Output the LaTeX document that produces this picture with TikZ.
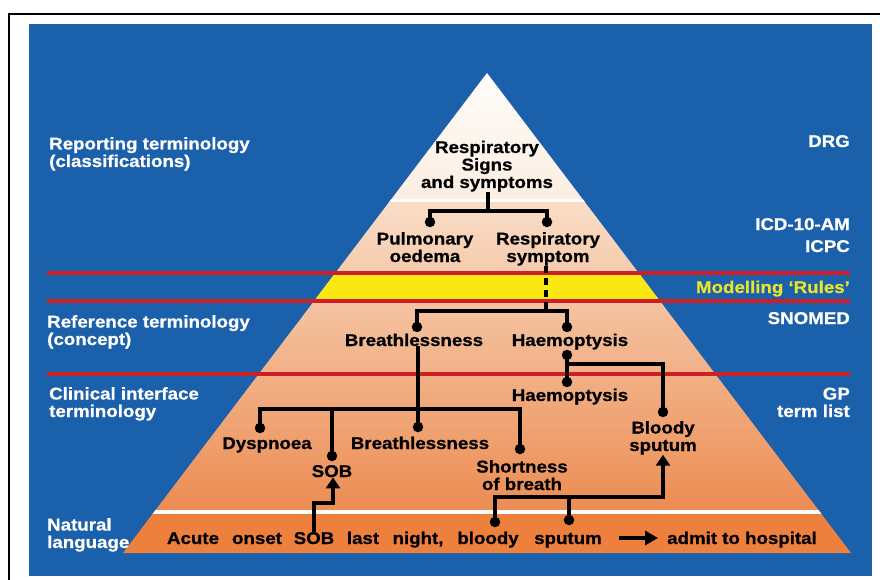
\documentclass[tikz,border=0pt]{standalone}
\usepackage{fontspec}
\setmainfont{Liberation Sans}[FakeStretch=1.1, BoldFeatures={FakeBold=0.7}]
\usetikzlibrary{arrows.meta}
\definecolor{bgblue}{RGB}{27,96,171}
\definecolor{redl}{RGB}{206,30,38}
\definecolor{yel}{RGB}{250,232,20}
\definecolor{modyel}{RGB}{236,228,40}
\definecolor{cream1}{RGB}{255,253,250}
\definecolor{cream2}{RGB}{251,238,226}
\definecolor{peach1}{RGB}{249,222,200}
\definecolor{peach2}{RGB}{236,140,82}
\definecolor{orangeb}{RGB}{237,128,60}
\begin{document}
\begin{tikzpicture}[x=1pt,y=-1pt,
  font=\bfseries\fontsize{17}{17.5}\selectfont,
  lbl/.style={text=white, inner sep=0pt, anchor=base west, align=left},
  rlbl/.style={text=white, inner sep=0pt, anchor=base east, align=right},
  term/.style={text=black, inner sep=0pt, anchor=base, align=center},
  dot/.style={circle, fill=black, inner sep=0pt, minimum size=10.5pt},
  conn/.style={line width=3.5pt, draw=black},
  arr/.style={conn, -{Triangle[width=14pt,length=11pt]}},
  redline/.style={line width=4pt, draw=redl},
]
\useasboundingbox (0,0) rectangle (880,580);
\fill[white] (0,0) rectangle (880,580);
\draw[line width=2pt] (8.5,14) rectangle (890,590);
\fill[bgblue] (29,24) rectangle (872,576);

% pyramid
\coordinate (apex) at (487,73);
\coordinate (bl) at (123,553);
\coordinate (br) at (851,553);
\begin{scope}
  \clip (apex) -- (bl) -- (br) -- cycle;
  \shade[top color=cream1, bottom color=cream2] (100,70) rectangle (880,200);
  \shade[top color=peach1, bottom color=peach2] (100,200) rectangle (880,512);
  \fill[orangeb] (100,512) rectangle (880,556);
  \fill[yel] (100,275) rectangle (880,300);
  \draw[white, line width=3pt] (100,200) -- (880,200);
  \draw[white, line width=4pt] (100,512) -- (880,512);
\end{scope}

% red lines
\draw[redline] (47,273) -- (850,273);
\draw[redline] (47,301) -- (850,301);
\draw[redline] (47,374) -- (850,374);

% side labels (anchor = baseline of last line)
\node[lbl] (rep) at (49,167) {Reporting terminology\\(classifications)};
\node[lbl] (ref) at (47,345) {Reference terminology\\(concept)};
\node[lbl] (cli) at (49,417) {Clinical interface\\terminology};
\node[lbl] (nat) at (47,548) {Natural\\language};
\node[rlbl] (drg) at (850,147) {DRG};
\node[rlbl] (icd) at (850,252) {ICD-10-AM\\[4.5pt]ICPC};
\node[rlbl, text=modyel] (mod) at (850,293) {Modelling ‘Rules’};
\node[rlbl] (sno) at (850,324) {SNOMED};
\node[rlbl] (gp) at (850,417) {GP\\term list};

% pyramid terms
\node[term] (rss) at (487,188) {Respiratory\\Signs\\and symptoms};
\node[term] (pulm) at (425,262) {Pulmonary\\oedema};
\node[term] (rsym) at (548,262) {Respiratory\\symptom};
\node[term] (br1) at (414,346) {Breathlessness};
\node[term] (ha1) at (570,346) {Haemoptysis};
\node[term] (ha2) at (570,401) {Haemoptysis};
\node[term] (bs) at (663,451) {Bloody\\sputum};
\node[term] (dys) at (267,449) {Dyspnoea};
\node[term] (br2) at (420,449) {Breathlessness};
\node[term] (sob) at (332,477) {SOB};
\node[term] (sht) at (522,490) {Shortness\\of breath};

% natural language words
\node[term] (w1) at (193,544) {Acute};
\node[term] (w2) at (257,544) {onset};
\node[term] (w3) at (314,544) {SOB};
\node[term] (w4) at (363,544) {last};
\node[term] (w5) at (418,544) {night,};
\node[term] (w6) at (488,544) {bloody};
\node[term] (w7) at (568,544) {sputum};
\node[term] (adm) at (742,544) {admit to hospital};
\coordinate (aS) at (619,538);
\coordinate (aE) at (658,538);
\draw[line width=3.5pt, -{Triangle[width=14pt,length=13pt]}] (aS) -- (aE);

% dots
\node[dot] (dPulm) at (430,222) {};
\node[dot] (dRsym) at (547,222) {};
\node[dot] (dBr1) at (417,327) {};
\node[dot] (dHa1) at (567,327) {};
\node[dot] (dHa1b) at (567,355) {};
\node[dot] (dHa2) at (567,382) {};
\node[dot] (dBs) at (663,412) {};
\node[dot] (dDys) at (260,428) {};
\node[dot] (dBr2) at (418,427) {};
\node[dot] (dSob) at (332,456) {};
\node[dot] (dSht) at (520,449) {};
\node[dot] (dBw) at (495,522) {};
\node[dot] (dSp) at (569,520) {};

% junctions
\coordinate (jA) at (488,211);
\coordinate (jB) at (546,311);
\coordinate (jC) at (418,409);
\coordinate (jD) at (567,364);
\coordinate (jE) at (333,503);
\coordinate (jF) at (663,497);

% connectors
\draw[conn] (jA |- rss.south) -- (jA);
\draw[conn] (dPulm.center) |- (jA) -| (dRsym.center);
\draw[conn, dash pattern=on 7pt off 5pt] (jB |- rsym.south) -- (jB);
\draw[conn] (dBr1.center) |- (jB) -| (dHa1.center);
\draw[conn] (dBr2 |- br1.south) -- (dBr2.center);
\draw[conn] (dDys.center) |- (jC) -| (dSht.center);
\draw[conn] (jC -| dSob) -- (dSob.center);
\draw[conn] (dHa1b.center) -- (dHa2.center);
\draw[conn] (jD) -| (dBs.center);
\draw[arr] (w3.north) |- (jE) -- (jE |- sob.south);
\draw[arr] (dBw.center) |- (jF) -- (jF |- bs.south);
\draw[conn] (dSp.center) -- (dSp |- jF);
\end{tikzpicture}
\end{document}
